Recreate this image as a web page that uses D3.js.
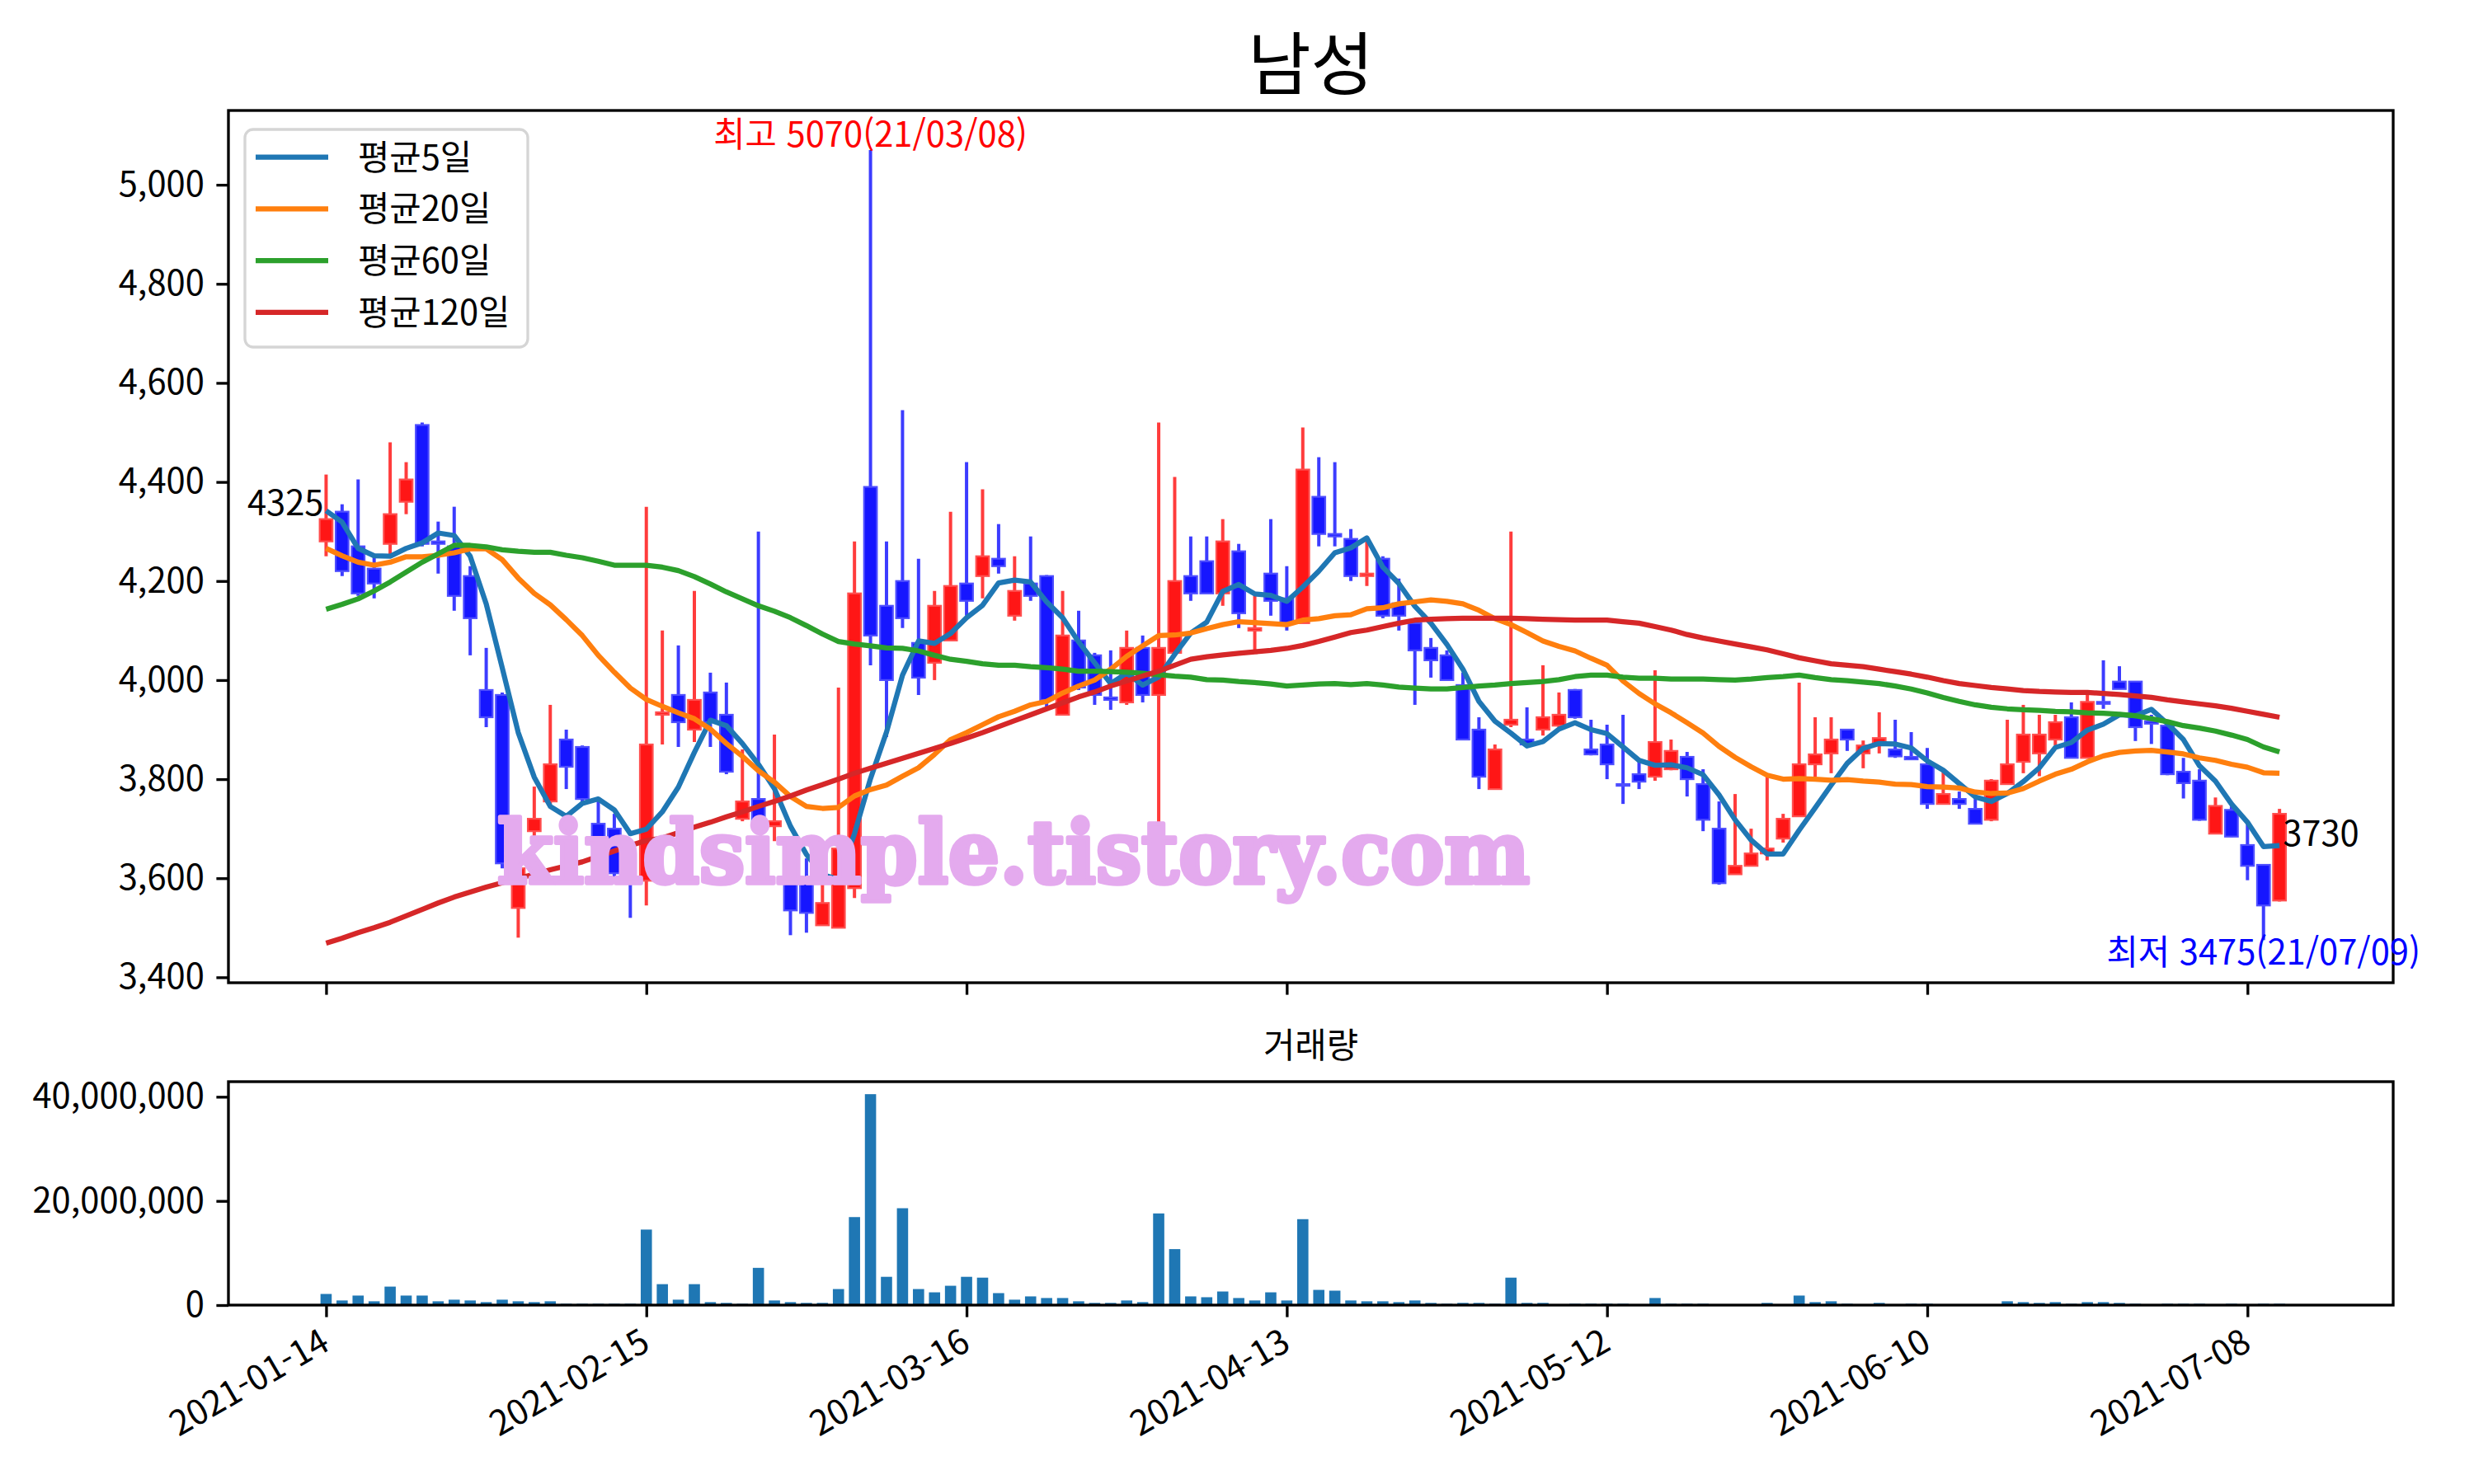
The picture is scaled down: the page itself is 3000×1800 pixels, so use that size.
<!DOCTYPE html>
<html lang="ko"><head><meta charset="utf-8"><title>남성</title>
<script src="https://cdn.jsdelivr.net/npm/d3@7/dist/d3.min.js"></script>
<style>
html,body{margin:0;padding:0;background:#fff;}
text{font-family:"Noto Sans CJK KR","Noto Sans",sans-serif;}
text.wm{font-family:"DejaVu Serif","Liberation Serif",serif;font-weight:bold;}
</style></head><body>
<svg id="chart" width="3000" height="1800" xmlns="http://www.w3.org/2000/svg"></svg>
<script>
// ---------------- data ----------------
const title = "남성";
const volTitle = "거래량";
const seriesNames = ["평균5일", "평균20일", "평균60일", "평균120일"];
const seriesColors = ["#1f77b4", "#ff7f0e", "#2ca02c", "#d62728"];
const tickIdx = [0, 20, 40, 60, 80, 100, 120];
const tickLabels = ["2021-01-14", "2021-02-15", "2021-03-16", "2021-04-13", "2021-05-12", "2021-06-10", "2021-07-08"];
const priceTicks = [3400, 3600, 3800, 4000, 4200, 4400, 4600, 4800, 5000];
const volTicks = [0, 20, 40];               // millions of shares
const volTickLabels = ["0", "20,000,000", "40,000,000"];
const hiIdx = 34, hiLabel = "최고 5070(21/03/08)";
const loIdx = 121, loLabel = "최저 3475(21/07/09)";
const firstLabel = "4325", lastLabel = "3730";
const watermark = "kindsimple.tistory.com";

const openP = [4280,4340,4270,4225,4275,4360,4515,4280,4270,4210,
 3980,3970,3540,3695,3755,3880,3865,3710,3700,3595,
 3595,3930,3970,3900,3975,3930,3720,3760,3705,3600,
 3600,3505,3500,3580,4390,4150,4200,4075,4035,4080,
 4195,4210,4245,4130,4195,4210,3930,4080,4050,3965,
 3955,4065,3970,4055,4210,4240,4175,4260,4100,4215,
 4165,4115,4370,4295,4285,4210,4245,4155,4115,4065,
 4050,3990,3900,3780,3910,3880,3900,3908,3980,3860,
 3870,3790,3810,3805,3820,3845,3790,3700,3608,3625,
 3650,3680,3725,3830,3852,3900,3852,3870,3860,3845,
 3830,3750,3760,3740,3718,3790,3835,3852,3880,3925,
 3843,3956,3997,3997,3917,3908,3815,3797,3690,3738,
 3667,3627,3555];
const highP = [4415,4355,4405,4250,4480,4440,4520,4320,4350,4230,
 4065,3975,3680,3785,3950,3900,3868,3760,3730,3640,
 4350,4100,4070,4180,4015,3995,3860,4300,3890,3620,
 3640,3620,3985,4280,5070,4280,4545,4245,4180,4340,
 4440,4385,4315,4250,4290,4212,4180,4140,4055,4060,
 4100,4090,4520,4410,4290,4290,4325,4275,4170,4325,
 4230,4510,4450,4440,4305,4285,4250,4205,4117,4085,
 4060,4015,3925,3870,4300,3945,4030,3975,3982,3920,
 3910,3930,3835,4020,3880,3855,3820,3755,3770,3700,
 3805,3730,3995,3925,3925,3900,3878,3935,3920,3895,
 3863,3820,3775,3760,3800,3920,3950,3930,3930,3955,
 3970,4040,4028,3998,3930,3910,3843,3820,3763,3745,
 3716,3628,3740];
const lowP = [4250,4210,4170,4165,4250,4335,4270,4215,4140,4050,
 3905,3620,3480,3670,3750,3780,3755,3650,3600,3520,
 3545,3870,3865,3875,3865,3810,3715,3690,3675,3485,
 3490,3505,3500,3560,4030,3885,4105,3970,4000,4080,
 4130,4165,4215,4120,4160,3940,3930,3980,3950,3940,
 3950,3955,3700,4055,4160,4175,4150,4105,4055,4130,
 4100,4115,4270,4270,4200,4190,4125,4100,3950,4005,
 4000,3880,3780,3780,3905,3868,3888,3905,3922,3848,
 3800,3750,3780,3797,3818,3765,3695,3587,3607,3625,
 3636,3672,3725,3805,3812,3857,3822,3852,3843,3840,
 3740,3749,3740,3710,3715,3789,3812,3806,3868,3843,
 3843,3942,3982,3877,3871,3808,3761,3716,3689,3683,
 3596,3475,3553];
const closeP = [4325,4220,4175,4195,4335,4405,4275,4275,4170,4125,
 3925,3630,3620,3720,3830,3825,3760,3665,3610,3590,
 3870,3935,3915,3960,3915,3815,3755,3705,3715,3535,
 3530,3550,3660,4175,4090,4000,4125,4005,4150,4190,
 4160,4250,4230,4180,4170,3960,4090,3985,3970,3960,
 4065,3970,4065,4200,4175,4175,4280,4135,4105,4160,
 4115,4425,4295,4290,4210,4215,4130,4130,4060,4040,
 4000,3880,3805,3860,3920,3870,3925,3930,3925,3850,
 3830,3788,3795,3875,3857,3800,3718,3590,3625,3650,
 3660,3720,3830,3850,3880,3880,3868,3883,3846,3840,
 3750,3770,3750,3710,3797,3830,3890,3890,3915,3843,
 3956,3952,3982,3905,3912,3810,3792,3718,3746,3684,
 3625,3545,3730];
const ma5 = [4342,4319,4266,4251,4250,4266,4277,4297,4292,4250,
 4154,4025,3894,3804,3745,3725,3751,3760,3738,3690,
 3699,3734,3784,3854,3919,3908,3872,3830,3781,3705,
 3648,3607,3598,3690,3801,3895,4010,4079,4074,4094,
 4126,4151,4196,4202,4198,4158,4126,4077,4035,3993,
 4014,3990,4006,4052,4095,4117,4179,4193,4174,4171,
 4159,4188,4220,4257,4267,4287,4228,4195,4149,4115,
 4072,4022,3957,3917,3893,3867,3876,3901,3914,3900,
 3892,3865,3838,3828,3829,3823,3809,3768,3718,3677,
 3649,3649,3697,3742,3788,3832,3862,3872,3871,3863,
 3837,3818,3791,3764,3755,3771,3795,3823,3864,3874,
 3899,3911,3930,3928,3941,3912,3880,3827,3796,3750,
 3713,3664,3666];
const ma20 = [4266,4251,4238,4232,4238,4249,4249,4252,4257,4265,
 4265,4243,4206,4175,4152,4122,4090,4050,4016,3984,
 3961,3947,3934,3922,3901,3872,3846,3817,3794,3765,
 3745,3741,3743,3766,3779,3788,3806,3823,3850,3880,
 3894,3910,3926,3937,3950,3957,3974,3988,4000,4022,
 4048,4069,4090,4091,4095,4104,4112,4118,4116,4114,
 4112,4121,4124,4130,4132,4144,4146,4154,4158,4162,
 4159,4154,4141,4124,4112,4096,4079,4068,4059,4044,
 4030,3998,3973,3952,3934,3914,3893,3866,3844,3825,
 3808,3800,3801,3800,3798,3799,3796,3794,3790,3789,
 3785,3784,3782,3774,3771,3772,3781,3796,3810,3820,
 3835,3847,3854,3857,3858,3855,3851,3843,3838,3830,
 3824,3813,3812];
const ma60 = [4143,4153,4164,4180,4198,4218,4238,4255,4272,4272,
 4269,4263,4260,4258,4258,4252,4247,4240,4232,4232,
 4232,4228,4221,4209,4194,4178,4164,4150,4139,4126,
 4110,4093,4078,4073,4069,4065,4064,4059,4050,4042,
 4038,4033,4030,4030,4027,4025,4022,4018,4018,4017,
 4016,4014,4011,4008,4006,4001,4000,3997,3995,3992,
 3988,3990,3992,3993,3991,3993,3990,3986,3984,3982,
 3982,3985,3988,3990,3993,3995,3997,4001,4007,4010,
 4010,4006,4004,4004,4002,4002,4002,4001,4000,4002,
 4005,4007,4010,4005,4001,3999,3996,3993,3988,3982,
 3974,3965,3957,3950,3945,3942,3940,3939,3937,3936,
 3934,3933,3931,3928,3922,3916,3908,3903,3897,3889,
 3880,3865,3855];
const ma120 = [3469,3479,3490,3500,3511,3524,3537,3550,3562,3572,
 3582,3591,3600,3608,3617,3625,3633,3644,3655,3666,
 3676,3681,3692,3703,3713,3724,3734,3745,3755,3766,
 3778,3789,3800,3812,3822,3832,3842,3852,3862,3872,
 3883,3894,3906,3918,3930,3942,3954,3966,3976,3988,
 3998,4008,4018,4030,4042,4047,4051,4054,4057,4060,
 4064,4070,4078,4087,4096,4101,4108,4115,4121,4123,
 4124,4125,4125,4125,4125,4124,4123,4122,4121,4121,
 4121,4118,4115,4108,4101,4092,4085,4079,4073,4067,
 4061,4053,4045,4039,4033,4030,4027,4022,4017,4012,
 4006,3999,3993,3989,3985,3982,3979,3977,3976,3975,
 3975,3973,3971,3968,3965,3960,3956,3952,3948,3943,
 3937,3931,3925];
const volumeM = [2.14,0.89,1.83,0.73,3.55,1.83,1.83,0.73,1.04,0.89,
 0.57,1.04,0.73,0.57,0.73,0.26,0.26,0.26,0.26,0.26,
 14.5,4.02,1.04,4.02,0.57,0.42,0.26,7.15,0.89,0.57,
 0.42,0.42,3.08,16.9,40.5,5.43,18.6,3.08,2.45,3.71,
 5.43,5.27,2.30,1.04,1.67,1.36,1.36,0.73,0.42,0.42,
 0.89,0.57,17.6,10.75,1.67,1.51,2.61,1.36,0.89,2.45,
 0.89,16.5,2.92,2.77,0.89,0.73,0.73,0.57,0.89,0.42,
 0.26,0.42,0.42,0.26,5.27,0.42,0.42,0.10,0.26,0.26,
 0.26,0.26,0.05,1.36,0.26,0.26,0.26,0.05,0.05,0.05,
 0.42,0.05,1.83,0.57,0.73,0.26,0.05,0.42,0.05,0.26,
 0.26,0.05,0.05,0.05,0.05,0.73,0.57,0.42,0.57,0.26,
 0.57,0.57,0.42,0.26,0.05,0.26,0.26,0.26,0.05,0.26,
 0.05,0.26,0.26];

// ---------------- layout ----------------
const FS = 41.7, TL = 14.6, LW = 3.33;
const mainL = 277, mainR = 2902, mainT = 134, mainB = 1192;
const volT = 1312, volB = 1583;

const svg = d3.select("#chart");
svg.append("rect").attr("width", 3000).attr("height", 1800).attr("fill", "#fff");

const x = d3.scaleLinear().domain([-6.1, 129.1]).range([mainL, mainR]);
const y = d3.scaleLinear().domain([3389, 5150]).range([mainB, mainT]);
const yv = d3.scaleLinear().domain([0, 42.9]).range([volB, volT]);

const defs = svg.append("defs");
defs.append("clipPath").attr("id", "clipMain").append("rect")
  .attr("x", mainL).attr("y", mainT).attr("width", mainR - mainL).attr("height", mainB - mainT);
defs.append("clipPath").attr("id", "clipVol").append("rect")
  .attr("x", mainL).attr("y", volT).attr("width", mainR - mainL).attr("height", volB - volT);

const idx = d3.range(closeP.length);
const isUp = i => closeP[i] >= openP[i];
const unit = x(1) - x(0);

// ---------------- candles ----------------
const plot = svg.append("g").attr("clip-path", "url(#clipMain)");
plot.selectAll("line.wick").data(idx).join("line").attr("class", "wick")
  .attr("x1", i => x(i)).attr("x2", i => x(i))
  .attr("y1", i => y(highP[i])).attr("y2", i => y(lowP[i]))
  .attr("stroke", i => isUp(i) ? "#ff3c3c" : "#3c3cff")
  .attr("stroke-width", 4);
const bw = unit * 0.8;
plot.selectAll("rect.body").data(idx).join("rect").attr("class", "body")
  .attr("x", i => x(i) - bw / 2)
  .attr("y", i => y(Math.max(openP[i], closeP[i])))
  .attr("width", bw)
  .attr("height", i => Math.max(Math.abs(y(openP[i]) - y(closeP[i])), 2))
  .attr("fill", i => isUp(i) ? "#ff1616" : "#1616ff")
  .attr("stroke", i => isUp(i) ? "#ff4e4e" : "#4e4eff")
  .attr("stroke-width", 2.2);

// ---------------- moving averages ----------------
const lineGen = d3.line().x((d, i) => x(i)).y(d => y(d));
[ma5, ma20, ma60, ma120].forEach((arr, k) => {
  plot.append("path").attr("d", lineGen(arr)).attr("fill", "none")
    .attr("stroke", seriesColors[k]).attr("stroke-width", 6.25)
    .attr("stroke-linejoin", "round").attr("stroke-linecap", "butt");
});

// ---------------- volume ----------------
const vplot = svg.append("g").attr("clip-path", "url(#clipVol)");
const vbw = unit * 0.7;
vplot.selectAll("rect.vol").data(idx).join("rect").attr("class", "vol")
  .attr("x", i => x(i) - vbw / 2).attr("width", vbw)
  .attr("y", i => yv(volumeM[i])).attr("height", i => yv(0) - yv(volumeM[i]))
  .attr("fill", "#1f77b4");

// ---------------- axes ----------------
function styleAxis(g) {
  g.attr("font-size", FS);
  g.select(".domain").remove();
  g.selectAll(".tick line").attr("stroke", "#000").attr("stroke-width", LW);
  g.selectAll(".tick text").attr("fill", "#000");
}
const gy = svg.append("g").attr("transform", `translate(${mainL},0)`)
  .call(d3.axisLeft(y).tickValues(priceTicks).tickFormat(d3.format(",")).tickSize(TL).tickPadding(TL));
styleAxis(gy);
const gx = svg.append("g").attr("transform", `translate(0,${mainB})`)
  .call(d3.axisBottom(x).tickValues(tickIdx).tickFormat("").tickSize(TL));
styleAxis(gx);
const gyv = svg.append("g").attr("transform", `translate(${mainL},0)`)
  .call(d3.axisLeft(yv).tickValues(volTicks).tickFormat((d, i) => volTickLabels[i]).tickSize(TL).tickPadding(TL));
styleAxis(gyv);
const gxv = svg.append("g").attr("transform", `translate(0,${volB})`)
  .call(d3.axisBottom(x).tickValues(tickIdx).tickFormat("").tickSize(TL));
styleAxis(gxv);
svg.append("g").selectAll("text").data(tickIdx).join("text")
  .attr("transform", i => `translate(${x(i) - 10},${volB + 24}) rotate(-30)`)
  .attr("text-anchor", "end").attr("dy", "0.8em")
  .attr("font-size", FS).attr("fill", "#000")
  .text((d, k) => tickLabels[k]);

// spines
svg.append("rect").attr("x", mainL).attr("y", mainT).attr("width", mainR - mainL).attr("height", mainB - mainT)
  .attr("fill", "none").attr("stroke", "#000").attr("stroke-width", LW);
svg.append("rect").attr("x", mainL).attr("y", volT).attr("width", mainR - mainL).attr("height", volB - volT)
  .attr("fill", "none").attr("stroke", "#000").attr("stroke-width", LW);

// ---------------- watermark ----------------
svg.append("text").attr("class", "wm").attr("x", 603).attr("y", 1071)
  .attr("transform", "translate(0,1071) scale(1,1.1) translate(0,-1071)")
  .attr("font-size", 96).attr("fill", "#e4aaee")
  .attr("stroke", "#e4aaee").attr("stroke-width", 5).attr("stroke-linejoin", "round")
  .attr("textLength", 1252).attr("lengthAdjust", "spacingAndGlyphs")
  .text(watermark);

// ---------------- titles ----------------
svg.append("text").attr("x", (mainL + mainR) / 2).attr("y", 108).attr("text-anchor", "middle")
  .attr("font-size", 83).attr("fill", "#000").text(title);
svg.append("text").attr("x", (mainL + mainR) / 2).attr("y", 1283).attr("text-anchor", "middle")
  .attr("font-size", FS).attr("fill", "#000").text(volTitle);

// ---------------- annotations ----------------
svg.append("text").attr("x", x(hiIdx)).attr("y", y(highP[hiIdx]) - 4).attr("text-anchor", "middle")
  .attr("font-size", FS).attr("fill", "#ff0000").text(hiLabel);
svg.append("text").attr("x", x(loIdx)).attr("y", y(lowP[loIdx]) + 30).attr("text-anchor", "middle")
  .attr("font-size", FS).attr("fill", "#0000ff").text(loLabel);
svg.append("text").attr("x", x(0) - 3).attr("y", y(closeP[0]) - 5).attr("text-anchor", "end")
  .attr("font-size", FS).attr("fill", "#000").text(firstLabel);
const li = closeP.length - 1;
svg.append("text").attr("x", x(li) + 4).attr("y", y(closeP[li]) + 39).attr("text-anchor", "start")
  .attr("font-size", FS).attr("fill", "#000").text(lastLabel);

// ---------------- legend ----------------
const lg = svg.append("g");
lg.append("rect").attr("x", 297).attr("y", 157).attr("width", 343).attr("height", 264).attr("rx", 10)
  .attr("fill", "#fff").attr("fill-opacity", 0.8).attr("stroke", "#d5d5d5").attr("stroke-width", 3.3);
seriesNames.forEach((nm, k) => {
  const ly = 190.7 + 62.7 * k;
  lg.append("line").attr("x1", 310).attr("x2", 398).attr("y1", ly).attr("y2", ly)
    .attr("stroke", seriesColors[k]).attr("stroke-width", 6.25);
  lg.append("text").attr("x", 434).attr("y", ly + 15).attr("font-size", FS)
    .attr("fill", "#000").text(nm);
});
</script>
</body></html>
